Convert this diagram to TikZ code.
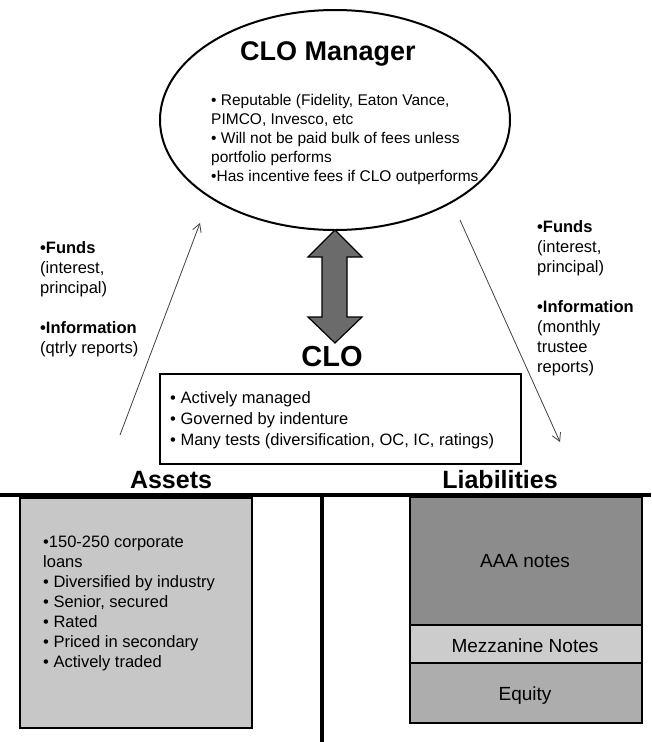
\documentclass[tikz,border=0pt]{standalone}
\usepackage{fontspec}
\setmainfont{Liberation Sans}
\usepackage{tikz}
\usetikzlibrary{arrows.meta,calc,shapes.geometric}
\usepackage{color}

\definecolor{assetgray}{gray}{0.78}
\definecolor{aaagray}{gray}{0.55}
\definecolor{mezzgray}{gray}{0.80}
\definecolor{equitygray}{gray}{0.68}
\definecolor{linkgray}{gray}{0.42}

\tikzset{
	heading/.style = {font=\fontsize{25}{30}\selectfont\bfseries, anchor=base, inner sep=0pt},
	bullets/.style = {align=left, anchor=north west, inner sep=0pt},
	flow/.style = {draw=black!75, line width=0.8pt, -{Straight Barb[length=8pt,width=9pt]}},
	tranche/.style = {draw, line width=2.5pt, minimum width=232pt, anchor=north west, inner sep=0pt, outer sep=0pt},
	tranchetext/.style = {font=\fontsize{19}{23}\selectfont, anchor=base, inner sep=0pt}
}

\begin{document}
\begin{tikzpicture}[x=1pt, y=-1pt]
	\useasboundingbox (0,0) rectangle (651,742);
	\node[draw, ellipse, line width=2pt, minimum width=350pt, minimum height=220pt] (mgr) at (335,120) {};
	\node[font=\fontsize{27}{32}\selectfont\bfseries, anchor=base, inner sep=0pt] (mgrtitle) at (328,60) {CLO Manager};
	\node[bullets, font=\fontsize{15.5}{19}\selectfont] (mgrtext) at (211,94) {• Reputable (Fidelity, Eaton Vance,\\PIMCO, Invesco, etc\\• Will not be paid bulk of fees unless\\portfolio performs\\•Has incentive fees if CLO outperforms};

	\coordinate (linktop) at (335,230);
	\coordinate (linkbot) at (335,343);
	\draw[fill=linkgray, line width=1.2pt] (linktop) -- ++(27,27) -- ++(-15,0) -- ++(0,60) -- ++(15,0) -- (linkbot) -- ++(-27,-26) -- ++(14,0) -- ++(0,-60) -- ++(-14,0) -- cycle;

	\node[font=\fontsize{29}{34}\selectfont\bfseries, anchor=base, inner sep=0pt] (clotitle) at (332,366) {CLO};
	\node[draw, line width=1.5pt, minimum width=361pt, minimum height=90pt, anchor=north west, inner sep=0pt] (clobox) at (159,373) {};
	\node[bullets, font=\fontsize{16.5}{21}\selectfont] (clotext) at (170,391) {• Actively managed\\• Governed by indenture\\• Many tests (diversification, OC, IC, ratings)};

	\node[bullets, font=\fontsize{16.5}{20}\selectfont] (fundsin) at (40,241) {\textbf{•Funds}\\(interest,\\principal)\\[20pt]\textbf{•Information}\\(qtrly reports)};
	\node[bullets, font=\fontsize{16.5}{20}\selectfont] (fundsout) at (537,220) {\textbf{•Funds}\\(interest,\\principal)\\[20pt]\textbf{•Information}\\(monthly\\trustee\\reports)};

	\coordinate (upstart) at (120,435);
	\coordinate (upend) at (200,223);
	\coordinate (downstart) at (460,220);
	\coordinate (downend) at (560,442);
	\draw[flow] (upstart) -- (upend);
	\draw[flow] (downstart) -- (downend);

	\node[heading] (assets) at (171,488) {Assets};
	\node[heading] (liab) at (500,488) {Liabilities};
	\coordinate (ledgerL) at (0,495);
	\coordinate (ledgerR) at (651,495);
	\coordinate (ledgerM) at (322,495);
	\coordinate (ledgerB) at (322,742);
	\draw[line width=4pt] (ledgerL) -- (ledgerR);
	\draw[line width=4pt] (ledgerM) -- (ledgerB);

	\node[draw, fill=assetgray, line width=1.5pt, minimum width=232pt, minimum height=230pt, anchor=north west, inner sep=0pt] (assetbox) at (19,497) {};
	\node[bullets, font=\fontsize{16.5}{20}\selectfont] (assettext) at (43,535.5) {•150-250 corporate\\loans\\• Diversified by industry\\• Senior, secured\\• Rated\\• Priced in secondary\\• Actively traded};

	\node[tranche, fill=aaagray, minimum height=128pt] (aaa) at (410,497) {};
	\node[tranche, fill=mezzgray, minimum height=38pt] (mezz) at (aaa.south west) {};
	\node[tranche, fill=equitygray, minimum height=60pt] (equity) at (mezz.south west) {};
	\node[tranchetext] (aaatext) at (525,567) {AAA notes};
	\node[tranchetext] (mezztext) at (525,652) {Mezzanine Notes};
	\node[tranchetext] (equitytext) at (525,700) {Equity};
\end{tikzpicture}
\end{document}
